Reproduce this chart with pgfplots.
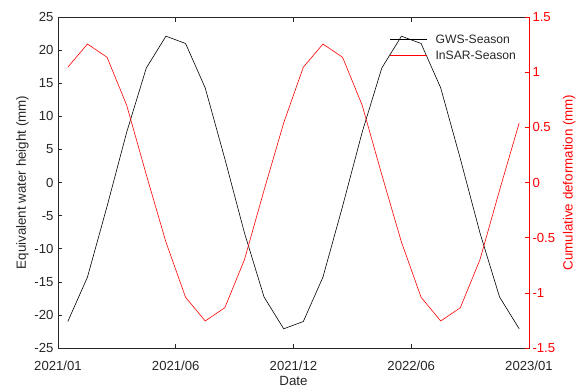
\documentclass[border=0pt]{standalone}
\usepackage{pgfplots}
\pgfplotsset{compat=1.18}
\usepackage{fontspec}
\setmainfont{Liberation Sans}
\definecolor{axgray}{rgb}{0.15,0.15,0.15}
\begin{document}
\begin{tikzpicture}
\begin{axis}[
  scale only axis, width=471bp, height=331bp,
  at={(0,0)}, anchor=south west,
  xmin=0, xmax=24, ymin=-25, ymax=25,
  xtick={0,6,12,18,24},
  xticklabels={2021/01,2021/06,2021/12,2022/06,2023/01},
  ytick={-25,-20,...,25},
  xtick pos=both, ytick pos=left,
  tick align=inside,
  major tick length=4.5bp,
  axis line style={axgray, line width=0.6bp},
  every tick/.style={axgray, line width=0.6bp},
  tick label style={font=\fontsize{13.2}{15}\selectfont, color=axgray},
  xticklabel style={yshift=-9bp},
  yticklabel style={xshift=-1bp},
  label style={font=\fontsize{13.4}{15}\selectfont, color=axgray},
  xlabel style={yshift=1bp},
  ylabel style={yshift=-1bp},
  xlabel={Date}, ylabel={Equivalent water height (mm)},
  /pgf/number format/assume math mode=true,
]
\addplot[black, line width=0.6bp] coordinates {
(0.5,-21.0) (1.5,-14.3) (2.5,-3.6) (3.5,7.6) (4.5,17.3) (5.5,22.1)
(6.5,21.0) (7.5,14.3) (8.5,3.6) (9.5,-7.6) (10.5,-17.3) (11.5,-22.1)
(12.5,-21.0) (13.5,-14.3) (14.5,-3.6) (15.5,7.6) (16.5,17.3) (17.5,22.1)
(18.5,21.0) (19.5,14.3) (20.5,3.6) (21.5,-7.6) (22.5,-17.3) (23.5,-22.1)
};
\end{axis}
\begin{axis}[
  scale only axis, width=471bp, height=331bp,
  at={(0,0)}, anchor=south west,
  xmin=0, xmax=24, ymin=-1.5, ymax=1.5,
  axis x line=none, axis y line*=right,
  ytick={-1.5,-1,...,1.5},
  tick align=inside,
  major tick length=4.5bp,
  axis line style={red, line width=0.6bp},
  every tick/.style={red, line width=0.6bp},
  tick label style={font=\fontsize{13.2}{15}\selectfont, color=red},
  label style={font=\fontsize{13.4}{15}\selectfont, color=red},
  ylabel style={yshift=-1bp},
  ylabel={Cumulative deformation (mm)},
  /pgf/number format/assume math mode=true,
  legend style={draw=none, fill=none, at={(rel axis cs:0.704,0.956)}, anchor=north west,
    font=\fontsize{12.2}{14}\selectfont, text=axgray, inner sep=0pt},
  legend cell align=left,
]
\addlegendimage{legend image code/.code={\path[draw=none, fill=none] (0bp,-8bp) rectangle (43.5bp,8bp); \draw[black, line width=0.6bp] (0bp,0bp) -- (37bp,0bp);}}
\addlegendentry{GWS-Season}
\addlegendimage{legend image code/.code={\path[draw=none, fill=none] (0bp,-8bp) rectangle (43.5bp,8bp); \draw[red, line width=0.6bp] (0bp,0bp) -- (37bp,0bp);}}
\addlegendentry{InSAR-Season}
\addplot[color=red, line width=0.6bp, forget plot] coordinates {
(0.5,1.045) (1.5,1.255) (2.5,1.135) (3.5,0.70) (4.5,0.07) (5.5,-0.54)
(6.5,-1.04) (7.5,-1.255) (8.5,-1.135) (9.5,-0.70) (10.5,-0.07) (11.5,0.54)
(12.5,1.045) (13.5,1.255) (14.5,1.135) (15.5,0.70) (16.5,0.07) (17.5,-0.54)
(18.5,-1.04) (19.5,-1.255) (20.5,-1.135) (21.5,-0.70) (22.5,-0.07) (23.5,0.54)
};
\end{axis}
\pgfresetboundingbox
\path[use as bounding box] (-58bp,-39bp) rectangle (521bp,348bp);
\end{tikzpicture}
\end{document}
